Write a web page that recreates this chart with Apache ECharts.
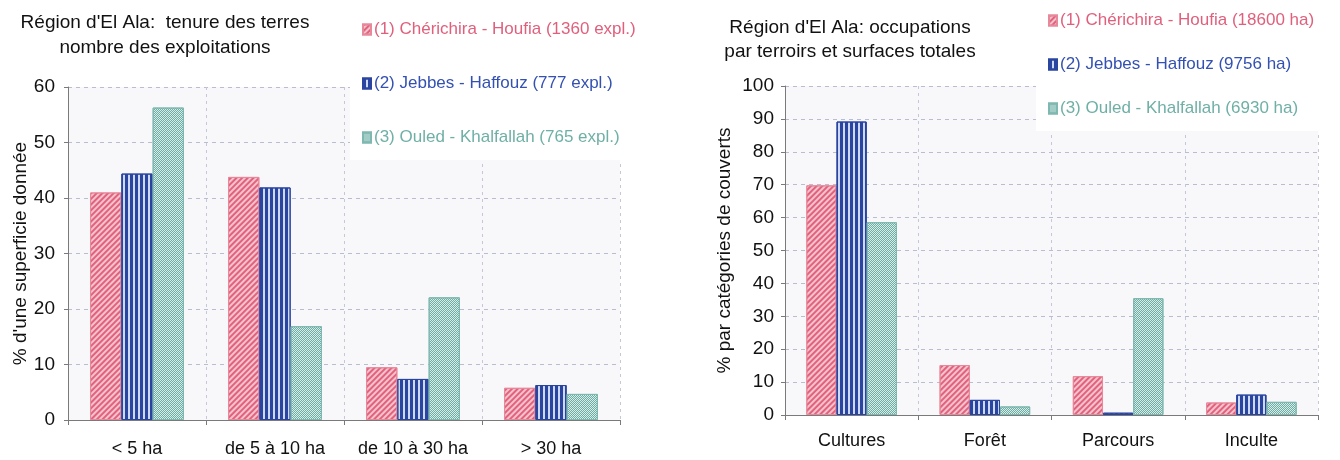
<!DOCTYPE html>
<html>
<head>
<meta charset="utf-8">
<script src="https://cdn.jsdelivr.net/npm/echarts@6/dist/echarts.min.js"></script>
<style>
html,body{margin:0;padding:0;background:#fff;}
#c{width:1340px;height:460px;}
</style>
</head>
<body>
<div id="c"></div>
<script>
// ---- data ----
const leftCategories = ['< 5 ha', 'de 5 à 10 ha', 'de 10 à 30 ha', '> 30 ha'];
const leftNames = ['(1) Chérichira - Houfia (1360 expl.)', '(2) Jebbes - Haffouz (777 expl.)', '(3) Ouled - Khalfallah (765 expl.)'];
const leftRed = [41.0, 43.8, 9.5, 5.8];
const leftBlue = [44.4, 41.9, 7.4, 6.3];
const leftGreen = [56.3, 16.9, 22.1, 4.7];

const rightCategories = ['Cultures', 'Forêt', 'Parcours', 'Inculte'];
const rightNames = ['(1) Chérichira - Houfia (18600 ha)', '(2) Jebbes - Haffouz (9756 ha)', '(3) Ouled - Khalfallah (6930 ha)'];
const rightRed = [69.8, 15.2, 11.8, 3.8];
const rightBlue = [89.2, 4.6, 0.7, 6.2];
const rightGreen = [58.6, 2.6, 35.5, 4.0];

const leftTitle = "Région d'El Ala:  tenure des terres\nnombre des exploitations";
const rightTitle = "Région d'El Ala: occupations\npar terroirs et surfaces totales";
const leftYName = "% d'une superficie donnée";
const rightYName = '% par catégories de couverts';

// ---- styles ----
const FONT = '"Liberation Sans", Arial, sans-serif';
const textCols = ['#e0607c', '#3451b2', '#6fb0a6'];
const styles = [
  { color: '#f7c2cc', borderColor: '#e8899b', borderWidth: 1,
    decal: { symbol: 'rect', symbolSize: 1, dashArrayX: [1, 0], dashArrayY: [2, 2], rotation: -Math.PI / 4, color: '#e0627e' } },
  { color: '#cdd9f5', borderColor: '#2a45a0', borderWidth: 1,
    decal: { symbol: 'rect', symbolSize: 1, dashArrayX: [2.5, 2], dashArrayY: [1, 0], rotation: 0, color: '#2a45a0' } },
  { color: '#d6ede9', borderColor: '#7fb8b0', borderWidth: 1,
    decal: { symbol: 'rect', symbolSize: 1, dashArrayX: [[1, 1], [0, 1, 1, 0]], dashArrayY: [1, 0], rotation: 0, color: '#6eaca4' } }
];

function mkSeries(names, arrs, axisIdx) {
  return arrs.map((d, i) => ({
    name: names[i], type: 'bar', xAxisIndex: axisIdx, yAxisIndex: axisIdx,
    data: d, barGap: '0%', barCategoryGap: '32%',
    itemStyle: styles[i], emphasis: { disabled: true }, animation: false
  }));
}

function mkLegend(names, left, top, gap, width) {
  return {
    left: left, top: top, orient: 'vertical', itemGap: gap,
    itemWidth: 8, itemHeight: 10, icon: 'rect',
    backgroundColor: '#ffffff', padding: [6, 12, 14, 12], width: width,
    data: names.map((n, i) => ({ name: n, textStyle: { color: textCols[i] } })),
    textStyle: { fontFamily: FONT, fontSize: 17, padding: [0, 0, 0, -2] },
    selectedMode: false
  };
}

const splitLine = { show: true, lineStyle: { color: '#b9bdd0', type: [4, 4], width: 1 } };
const axisLine = { show: true, lineStyle: { color: '#7a7a7a', width: 1 } };

function mkX(cats, grid, margin) {
  return {
    type: 'category', gridIndex: grid, data: cats,
    axisLine: axisLine, axisTick: { show: true, length: 5, alignWithLabel: false, interval: 0, lineStyle: { color: '#7a7a7a' } },
    axisLabel: { color: '#111', fontFamily: FONT, fontSize: 18, margin: margin, interval: 0, hideOverlap: false },
    splitLine: { show: true, interval: 0, lineStyle: { color: '#c5c8d6', type: [3, 4] } }
  };
}
function mkY(max, grid, name, gap, margin) {
  return {
    type: 'value', gridIndex: grid, min: 0, max: max, interval: 10,
    name: name, nameLocation: 'middle', nameGap: gap, nameRotate: 90,
    nameTextStyle: { color: '#111', fontFamily: FONT, fontSize: 19 },
    axisLine: axisLine, axisTick: { show: true, length: 4, lineStyle: { color: '#7a7a7a' } },
    axisLabel: { color: '#111', fontFamily: FONT, fontSize: 19, margin: margin },
    splitLine: splitLine
  };
}

const chart = echarts.init(document.getElementById('c'), null, { renderer: 'canvas' });
chart.setOption({
  backgroundColor: '#ffffff',
  animation: false,
  graphic: [
    { type: 'text', x: 165, y: 10, z: 10, style: { text: leftTitle, textAlign: 'center', textVerticalAlign: 'top', fontFamily: FONT, fontSize: 19, lineHeight: 25, fill: '#111' } },
    { type: 'text', x: 850, y: 16, z: 10, style: { text: rightTitle, textAlign: 'center', textVerticalAlign: 'top', fontFamily: FONT, fontSize: 19, lineHeight: 24, fill: '#111' } }
  ],
  grid: [
    { left: 68, top: 87, width: 552, height: 333, show: true, backgroundColor: '#f8f8fa', borderWidth: 0 },
    { left: 785, top: 86, width: 533, height: 329, show: true, backgroundColor: '#f8f8fa', borderWidth: 0 }
  ],
  legend: [
    mkLegend(leftNames, 350, 15, 37, 280),
    mkLegend(rightNames, 1036, 6, 27, 290)
  ],
  xAxis: [mkX(leftCategories, 0, 20), mkX(rightCategories, 1, 17)],
  yAxis: [mkY(60, 0, leftYName, 37, 13), mkY(100, 1, rightYName, 51, 11)],
  series: mkSeries(leftNames, [leftRed, leftBlue, leftGreen], 0)
    .concat(mkSeries(rightNames, [rightRed, rightBlue, rightGreen], 1))
});
</script>
</body>
</html>
